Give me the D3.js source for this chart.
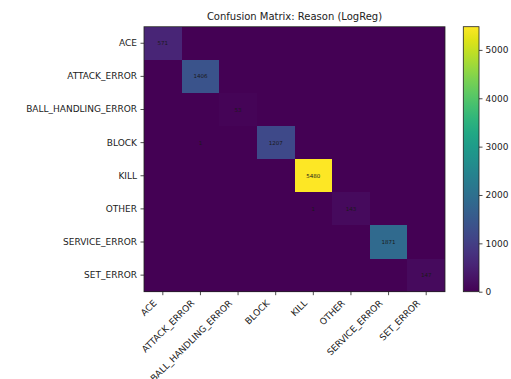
<!DOCTYPE html>
<html>
<head>
<meta charset="utf-8">
<script src="https://cdn.jsdelivr.net/npm/d3@7"></script>
<style>
  body { margin: 0; background: #fff; }
  svg { display: block; font-family: "DejaVu Sans", sans-serif; }
</style>
</head>
<body>
<svg id="chart" width="511" height="379"></svg>
<script>
// Class labels (true on rows, predicted on columns)
const classes = ["ACE", "ATTACK_ERROR", "BALL_HANDLING_ERROR", "BLOCK", "KILL", "OTHER", "SERVICE_ERROR", "SET_ERROR"];

// Confusion matrix counts, one row per true class
const row_ACE                 = [571, 0, 0, 0, 0, 0, 0, 0];
const row_ATTACK_ERROR        = [0, 1406, 0, 0, 0, 0, 0, 0];
const row_BALL_HANDLING_ERROR = [0, 0, 53, 0, 0, 0, 0, 0];
const row_BLOCK               = [0, 1, 0, 1207, 0, 0, 0, 0];
const row_KILL                = [0, 0, 0, 0, 5480, 0, 0, 0];
const row_OTHER               = [0, 0, 0, 0, 1, 143, 0, 0];
const row_SERVICE_ERROR       = [0, 0, 0, 0, 0, 0, 1871, 0];
const row_SET_ERROR           = [0, 0, 0, 0, 0, 0, 0, 147];
const matrix = [row_ACE, row_ATTACK_ERROR, row_BALL_HANDLING_ERROR, row_BLOCK,
                row_KILL, row_OTHER, row_SERVICE_ERROR, row_SET_ERROR];

const colorbarTicks = [0, 1000, 2000, 3000, 4000, 5000];
const title = "Confusion Matrix: Reason (LogReg)";

const svg = d3.select("#chart");
const plot = { left: 144, top: 26.7, right: 445, bottom: 291.7 };

const x = d3.scaleBand().domain(classes).range([plot.left, plot.right]);
const y = d3.scaleBand().domain(classes).range([plot.top, plot.bottom]);
const vmax = d3.max(matrix.flat());
const color = d3.scaleSequential(d3.interpolateViridis).domain([0, vmax]);

const cells = [];
matrix.forEach((row, i) => row.forEach((v, j) => cells.push({ r: classes[i], c: classes[j], v })));

// Heatmap cells
svg.append("g").attr("shape-rendering", "crispEdges")
  .selectAll("rect").data(cells).join("rect")
  .attr("x", d => x(d.c))
  .attr("y", d => y(d.r))
  .attr("width", x.bandwidth())
  .attr("height", y.bandwidth())
  .attr("fill", d => color(d.v));

// Count annotations for non-zero cells
svg.append("g").selectAll("text").data(cells.filter(d => d.v > 0)).join("text")
  .attr("x", d => x(d.c) + x.bandwidth() / 2)
  .attr("y", d => y(d.r) + y.bandwidth() / 2)
  .attr("text-anchor", "middle")
  .attr("dominant-baseline", "central")
  .attr("font-size", 5.5)
  .attr("fill", "#1a1a1a")
  .text(d => d.v);

// Frame
svg.append("rect")
  .attr("x", plot.left).attr("y", plot.top)
  .attr("width", plot.right - plot.left).attr("height", plot.bottom - plot.top)
  .attr("fill", "none").attr("stroke", "#222").attr("stroke-width", 0.8);

// Y axis
const yAxis = svg.append("g")
  .attr("transform", `translate(${plot.left},0)`)
  .call(d3.axisLeft(y).tickSize(3.5).tickPadding(3.5));
yAxis.select(".domain").remove();
yAxis.selectAll("line").attr("stroke", "#222").attr("stroke-width", 0.8);
yAxis.selectAll("text").attr("font-size", 9).attr("fill", "#222")
  .attr("font-family", "DejaVu Sans, sans-serif");

// X axis with rotated labels
const xAxis = svg.append("g")
  .attr("transform", `translate(0,${plot.bottom})`)
  .call(d3.axisBottom(x).tickSize(3.5).tickPadding(3.5));
xAxis.select(".domain").remove();
xAxis.selectAll("line").attr("stroke", "#222").attr("stroke-width", 0.8);
xAxis.selectAll("text")
  .attr("font-size", 9).attr("fill", "#222")
  .attr("font-family", "DejaVu Sans, sans-serif")
  .attr("text-anchor", "end")
  .attr("x", 0).attr("y", 0).attr("dy", 0)
  .attr("transform", "translate(-5.5,12) rotate(-45)");

// Title
svg.append("text")
  .attr("x", (plot.left + plot.right) / 2)
  .attr("y", 20)
  .attr("text-anchor", "middle")
  .attr("font-size", 10)
  .attr("fill", "#222")
  .text(title);

// Colorbar
const cb = { left: 463.3, right: 479, top: 26.7, bottom: 291.7 };
const cy = d3.scaleLinear().domain([0, vmax]).range([cb.bottom, cb.top]);
const defs = svg.append("defs");
const grad = defs.append("linearGradient").attr("id", "cbgrad")
  .attr("x1", 0).attr("y1", 1).attr("x2", 0).attr("y2", 0);
d3.range(0, 1.0001, 0.05).forEach(t => {
  grad.append("stop").attr("offset", t).attr("stop-color", d3.interpolateViridis(t));
});
svg.append("rect")
  .attr("x", cb.left).attr("y", cb.top)
  .attr("width", cb.right - cb.left).attr("height", cb.bottom - cb.top)
  .attr("fill", "url(#cbgrad)")
  .attr("stroke", "#222").attr("stroke-width", 0.8);
const cAxis = svg.append("g")
  .attr("transform", `translate(${cb.right},0)`)
  .call(d3.axisRight(cy).tickValues(colorbarTicks).tickFormat(d3.format("d")).tickSize(3.5).tickPadding(3));
cAxis.select(".domain").remove();
cAxis.selectAll("line").attr("stroke", "#222").attr("stroke-width", 0.8);
cAxis.selectAll("text").attr("font-size", 9).attr("fill", "#222")
  .attr("font-family", "DejaVu Sans, sans-serif");
</script>
</body>
</html>
